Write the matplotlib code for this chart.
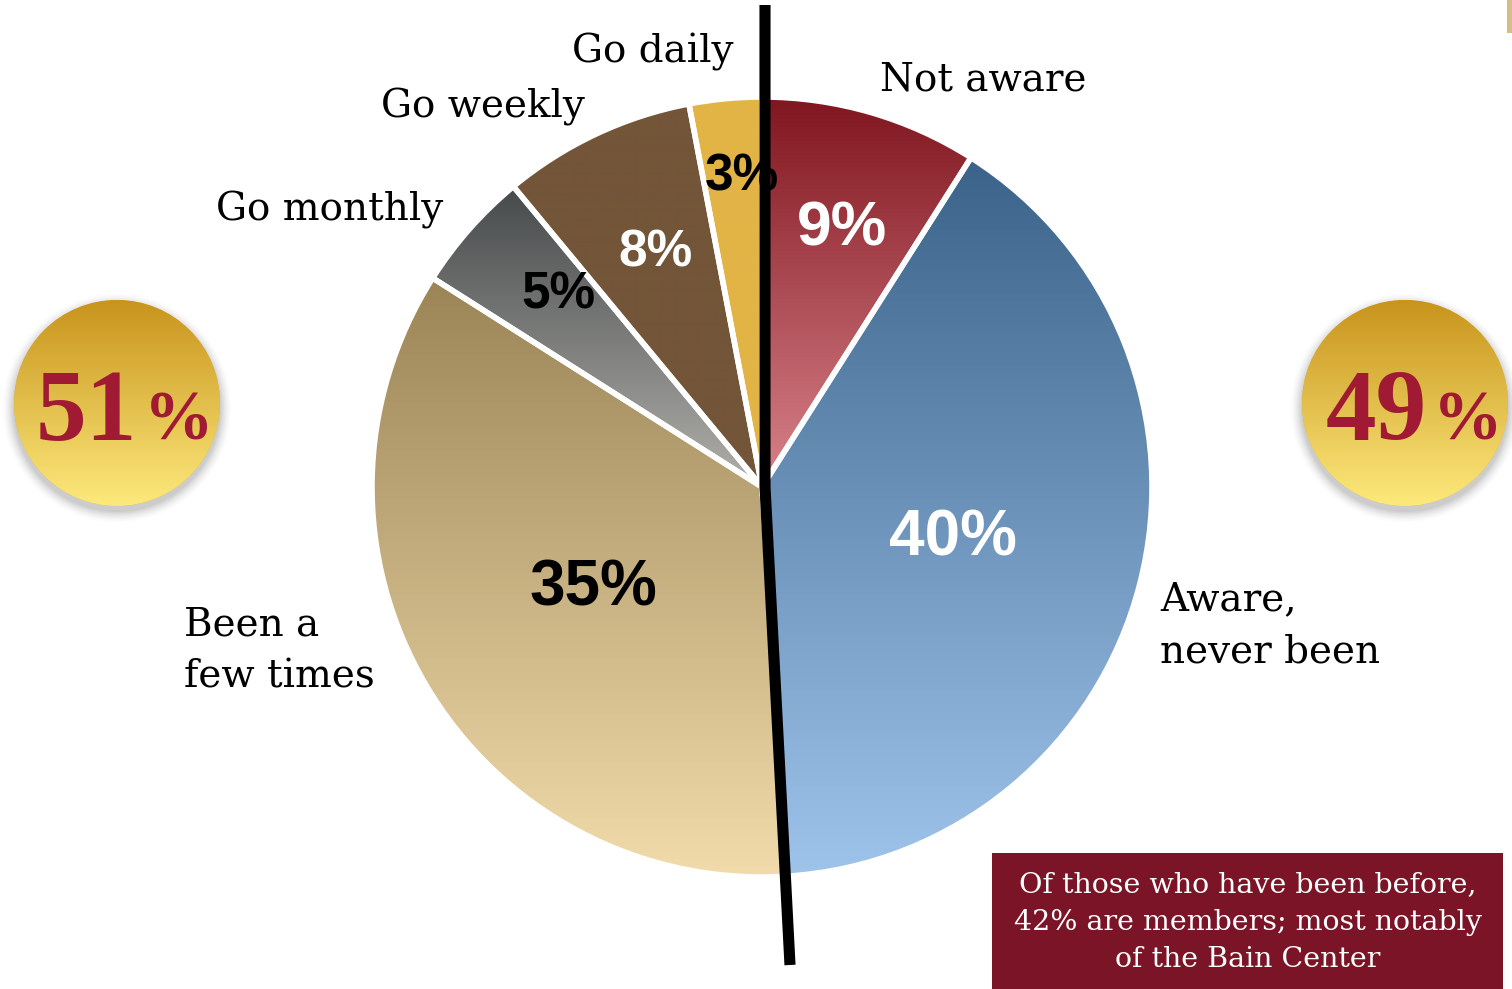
import numpy as np
import matplotlib
matplotlib.use("Agg")
import matplotlib.pyplot as plt
from matplotlib.colors import to_rgb
from matplotlib.patches import Circle, Rectangle, PathPatch

# ---- data ----
categories = ["Not aware", "Aware,\nnever been", "Been a\nfew times", "Go monthly", "Go weekly", "Go daily"]
values = [9, 40, 35, 5, 8, 3]
pct_labels = ["9%", "40%", "35%", "5%", "8%", "3%"]
top_colors = ["#80161f", "#3b6389", "#9b8557", "#464a4a", "#735538", "#e2b446"]
bottom_colors = ["#d9828a", "#9fc4ec", "#f3dcab", "#b0afab", "#735538", "#e2b446"]
pct_colors = ["white", "white", "black", "black", "white", "black"]
left_share = ("51", "%")
right_share = ("49", "%")
note_text = "Of those who have been before,\n42% are members; most notably\nof the Bain Center"

W, H = 1512, 989
fig = plt.figure(figsize=(W / 100, H / 100), dpi=100)
ax = fig.add_axes([0, 0, 1, 1])

def Y(y):  # convert pixel-from-top to data y
    return H - y

cx, cy, R = 762, Y(487), 390
wedges, _ = ax.pie(values, startangle=90, counterclock=False, center=(cx, cy), radius=R,
                   wedgeprops=dict(edgecolor="white", linewidth=4))

def vgrad(top, bottom, n=256):
    t = np.linspace(0, 1, n)[:, None]
    a = np.array(to_rgb(top)); b = np.array(to_rgb(bottom))
    return (a * (1 - t) + b * t)[:, None, :]

for w, tc, bc in zip(wedges, top_colors, bottom_colors):
    w.set_facecolor(tc)
    verts = w.get_path().vertices
    x0, y0 = verts.min(axis=0); x1, y1 = verts.max(axis=0)
    im = ax.imshow(vgrad(tc, bc), extent=(x0, x1, y0, y1), origin="upper", aspect="auto",
                   interpolation="bilinear", zorder=1.5)
    im.set_clip_path(w)
    edge = PathPatch(w.get_path(), facecolor="none", edgecolor="white", linewidth=4,
                     transform=w.get_transform(), zorder=2)
    ax.add_patch(edge)

# percentage labels
pct_pos = [(842, 229), (953, 538), (593, 588), (558, 295), (655, 253), (742, 177)]
pct_sizes = [45, 46, 46, 37, 37, 37]
for (px, py), lab, col, fs in zip(pct_pos, pct_labels, pct_colors, pct_sizes):
    ax.text(px, Y(py), lab, color=col, fontsize=fs, fontweight="bold", family="Liberation Sans",
            ha="center", va="center", zorder=3)

# category labels
serif = "DejaVu Serif"
lab_specs = [
    (880, 80, "left", "center"),
    (1160, 626, "left", "center"),
    (184, 651, "left", "center"),
    (443, 210, "right", "center"),
    (585, 107, "right", "center"),
    (733, 52, "right", "center"),
]
for (lx, ly, ha, va), lab in zip(lab_specs, categories):
    ax.text(lx, Y(ly), lab, fontsize=28, family=serif, ha=ha, va=va, linespacing=1.5, zorder=3)

# dividing line
ax.plot([765, 765, 790], [Y(5), Y(487), Y(965)], color="black", linewidth=8,
        solid_capstyle="butt", solid_joinstyle="miter", zorder=4)

# gold circles
def gold_circle(x, y, r, big, small, bx, sx):
    for k, a in enumerate(np.linspace(0.07, 0.01, 8)):
        ax.add_patch(Circle((x, Y(y) - 5), r + 1 + k * 1.5, facecolor="#555555", alpha=a,
                            edgecolor="none", zorder=2))
    c = Circle((x, Y(y)), r, facecolor="#e0b040", edgecolor="none", zorder=3)
    ax.add_patch(c)
    im = ax.imshow(vgrad("#c8941c", "#fde97c"), extent=(x - r, x + r, Y(y) - r, Y(y) + r),
                   origin="upper", aspect="auto", interpolation="bilinear", zorder=3.1)
    im.set_clip_path(c)
    ax.text(bx, Y(440), big, color="#a11a33", fontsize=73, fontweight="bold",
            family="Liberation Serif", ha="right", va="baseline", zorder=4)
    ax.text(sx, Y(440), small, color="#a11a33", fontsize=50, fontweight="bold",
            family="Liberation Serif", ha="left", va="baseline", zorder=4)

gold_circle(117, 403, 103, *left_share, 137, 144)
gold_circle(1405, 403, 103, *right_share, 1427, 1433)

# note box
ax.add_patch(Rectangle((992, Y(989)), 1503 - 992, 989 - 853, facecolor="#7a1426",
                       edgecolor="none", zorder=3))
ax.text(1248, Y(922), note_text, color="white", fontsize=20.5, family=serif, ha="center",
        va="center", linespacing=1.5, zorder=4)

# thin tan strip top right
ax.add_patch(Rectangle((1507, Y(33)), 6, 33, facecolor="#d5bd8a", edgecolor="none", zorder=3))

ax.set_xlim(0, W)
ax.set_ylim(0, H)
ax.set_aspect("auto")
ax.axis("off")
fig.savefig("out.png", dpi=100, facecolor="white")
